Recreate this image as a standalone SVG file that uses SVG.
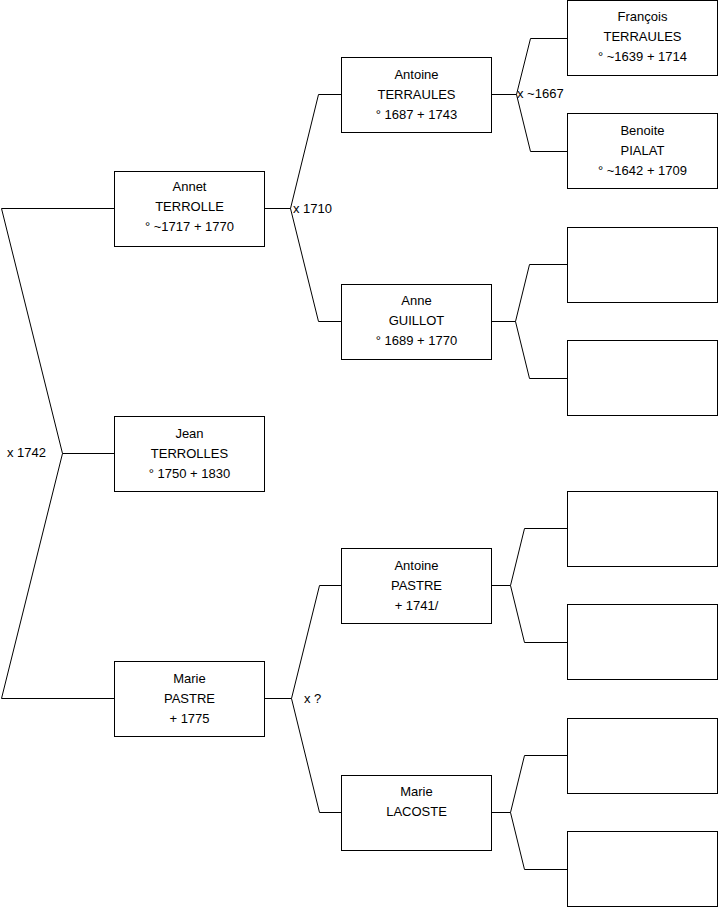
<svg xmlns="http://www.w3.org/2000/svg" width="719" height="908" viewBox="0 0 719 908">
<style>
.box{fill:#fff;stroke:#000;stroke-width:1}
.t{font-family:"Liberation Sans",Arial,sans-serif;font-size:13px;fill:#000;text-anchor:middle}
.l{font-family:"Liberation Sans",Arial,sans-serif;font-size:13px;fill:#000}
.c{fill:none;stroke:#000;stroke-width:1}
</style>
<rect width="719" height="908" fill="#fff"/>
<g id="connectors">
<path class="c" d="M114,453.5 H62.5 L1.5,208.5 H114"/>
<path class="c" d="M62.5,453.5 L1.5,698.5 H114"/>
<path class="c" d="M265,208.5 H290.5 L318.5,94.5 H341"/>
<path class="c" d="M290.5,208.5 L318.5,321.5 H341"/>
<path class="c" d="M492,94.5 H516.5 L530.5,38.5 H567"/>
<path class="c" d="M516.5,94.5 L530.5,151.5 H567"/>
<path class="c" d="M492,321.5 H515.5 L529.5,264.5 H567"/>
<path class="c" d="M515.5,321.5 L529.5,378.5 H567"/>
<path class="c" d="M265,698.5 H291.5 L319.5,585.5 H341"/>
<path class="c" d="M291.5,698.5 L319.5,812.5 H341"/>
<path class="c" d="M492,585.5 H510.5 L524.5,528.5 H567"/>
<path class="c" d="M510.5,585.5 L524.5,642.5 H567"/>
<path class="c" d="M492,812.5 H510.5 L524.5,755.5 H567"/>
<path class="c" d="M510.5,812.5 L524.5,869.5 H567"/>
<text class="l" x="7" y="456.5">x 1742</text>
<text class="l" x="293" y="212.5">x 1710</text>
<text class="l" x="517" y="97.5">x ~1667</text>
<text class="l" x="304" y="702.5">x ?</text>
</g>
<g id="annet"><rect class="box" x="114.5" y="171.5" width="150" height="75"/>
<text class="t" x="189.5" y="190.5">Annet</text><text class="t" x="189.5" y="210.5">TERROLLE</text><text class="t" x="189.5" y="230.5">° ~1717 + 1770</text></g>
<g id="jean"><rect class="box" x="114.5" y="416.5" width="150" height="75"/>
<text class="t" x="189.5" y="437.5">Jean</text><text class="t" x="189.5" y="457.5">TERROLLES</text><text class="t" x="189.5" y="477.5">° 1750 + 1830</text></g>
<g id="marie-pastre"><rect class="box" x="114.5" y="661.5" width="150" height="75"/>
<text class="t" x="189.5" y="682.5">Marie</text><text class="t" x="189.5" y="702.5">PASTRE</text><text class="t" x="189.5" y="722.5">+ 1775</text></g>
<g id="antoine-terraules"><rect class="box" x="341.5" y="57.5" width="150" height="75"/>
<text class="t" x="416.5" y="78.5">Antoine</text><text class="t" x="416.5" y="98.5">TERRAULES</text><text class="t" x="416.5" y="118.5">° 1687 + 1743</text></g>
<g id="anne-guillot"><rect class="box" x="341.5" y="284.5" width="150" height="75"/>
<text class="t" x="416.5" y="304.5">Anne</text><text class="t" x="416.5" y="324.5">GUILLOT</text><text class="t" x="416.5" y="344.5">° 1689 + 1770</text></g>
<g id="antoine-pastre"><rect class="box" x="341.5" y="548.5" width="150" height="75"/>
<text class="t" x="416.5" y="569.5">Antoine</text><text class="t" x="416.5" y="589.5">PASTRE</text><text class="t" x="416.5" y="609.5">+ 1741/</text></g>
<g id="marie-lacoste"><rect class="box" x="341.5" y="775.5" width="150" height="75"/>
<text class="t" x="416.5" y="795.5">Marie</text><text class="t" x="416.5" y="815.5">LACOSTE</text></g>
<g id="francois"><rect class="box" x="567.5" y="0.5" width="150" height="75"/>
<text class="t" x="642.5" y="20.5">François</text><text class="t" x="642.5" y="40.5">TERRAULES</text><text class="t" x="642.5" y="60.5">° ~1639 + 1714</text></g>
<g id="benoite"><rect class="box" x="567.5" y="113.5" width="150" height="75"/>
<text class="t" x="642.5" y="134.5">Benoite</text><text class="t" x="642.5" y="154.5">PIALAT</text><text class="t" x="642.5" y="174.5">° ~1642 + 1709</text></g>
<g id="empty1"><rect class="box" x="567.5" y="227.5" width="150" height="75"/></g>
<g id="empty2"><rect class="box" x="567.5" y="340.5" width="150" height="75"/></g>
<g id="empty3"><rect class="box" x="567.5" y="491.5" width="150" height="75"/></g>
<g id="empty4"><rect class="box" x="567.5" y="604.5" width="150" height="75"/></g>
<g id="empty5"><rect class="box" x="567.5" y="718.5" width="150" height="75"/></g>
<g id="empty6"><rect class="box" x="567.5" y="831.5" width="150" height="75"/></g>
</svg>
